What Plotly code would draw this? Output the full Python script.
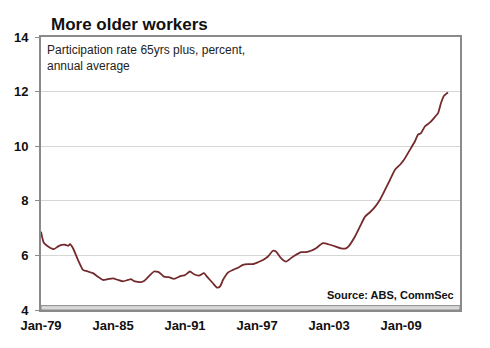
import plotly.graph_objects as go

# Participation rate, persons aged 65+, annual average (%)
dates = [
    "1979-01", "1979-04", "1979-11", "1980-02", "1980-07", "1981-01", "1981-04",
    "1981-06", "1981-09", "1982-02", "1982-07", "1982-12", "1983-05", "1983-10",
    "1984-03", "1984-08", "1985-01", "1985-06", "1985-11", "1986-04", "1986-07",
    "1986-10", "1987-05", "1987-08", "1988-02", "1988-06", "1988-11", "1989-04",
    "1989-09", "1990-02", "1990-09", "1991-01", "1991-06", "1991-10", "1992-03",
    "1992-08", "1992-11", "1993-05", "1993-09", "1993-12", "1994-03", "1994-08",
    "1995-01", "1995-06", "1995-11", "1996-04", "1996-09", "1997-02", "1997-07",
    "1997-12", "1998-05", "1998-08", "1999-01", "1999-06", "1999-11", "2000-04",
    "2000-09", "2001-02", "2001-07", "2001-12", "2002-07", "2003-02", "2003-08",
    "2004-01", "2004-06", "2004-09", "2005-03", "2005-08", "2006-01", "2006-06",
    "2006-10", "2007-04", "2007-09", "2008-02", "2008-07", "2008-12", "2009-04",
    "2009-09", "2010-03", "2010-06", "2010-09", "2011-01", "2011-06", "2011-10",
    "2012-02", "2012-05", "2012-08", "2012-12",
]
rate = [
    6.87, 6.45, 6.26, 6.23, 6.35, 6.39, 6.35,
    6.41, 6.26, 5.83, 5.47, 5.41, 5.35, 5.22,
    5.10, 5.13, 5.16, 5.10, 5.05, 5.10, 5.13,
    5.06, 5.02, 5.06, 5.28, 5.41, 5.38, 5.22,
    5.20, 5.14, 5.25, 5.28, 5.41, 5.31, 5.26,
    5.35, 5.22, 4.98, 4.82, 4.86, 5.10, 5.37,
    5.47, 5.55, 5.65, 5.68, 5.68, 5.75, 5.83,
    5.96, 6.17, 6.14, 5.90, 5.77, 5.90, 6.02,
    6.12, 6.12, 6.17, 6.26, 6.45, 6.39, 6.32,
    6.26, 6.26, 6.35, 6.69, 7.06, 7.42, 7.58,
    7.73, 8.04, 8.40, 8.77, 9.14, 9.32, 9.50,
    9.81, 10.18, 10.42, 10.48, 10.73, 10.87, 11.03,
    11.21, 11.58, 11.85, 11.97,
]

x_tick_vals = ["1979-01-01", "1985-01-01", "1991-01-01", "1997-01-01", "2003-01-01", "2009-01-01"]
x_tick_text = ["Jan-79", "Jan-85", "Jan-91", "Jan-97", "Jan-03", "Jan-09"]
y_tick_vals = [4, 6, 8, 10, 12, 14]

FONT = "Liberation Sans, Arial, sans-serif"

fig = go.Figure()
fig.add_trace(go.Scatter(
    x=dates, y=rate, mode="lines",
    line=dict(color="#742a2c", width=1.8, shape="spline", smoothing=0.5),
    hoverinfo="skip",
))

# shaded band along the category axis
fig.add_shape(type="rect", xref="paper", yref="y", x0=0, x1=1, y0=4, y1=4.16,
              fillcolor="#d9d9d9", line=dict(color="#8a8a8a", width=1), layer="above")

fig.update_layout(
    width=490, height=348,
    margin=dict(l=41, r=30, t=37, b=38),
    paper_bgcolor="white", plot_bgcolor="white",
    showlegend=False,
    font=dict(family=FONT, color="#111"),
    xaxis=dict(
        range=["1979-01-01", "2013-12-01"],
        tickvals=x_tick_vals, ticktext=x_tick_text,
        tickfont=dict(size=13, family=FONT, color="#111", weight="bold"),
        showgrid=False, zeroline=False,
        showline=True, linecolor="#8a8a8a", linewidth=2, mirror=True,
        ticks="inside", ticklen=4, tickcolor="#9a9a9a",
        ticklabelstandoff=2,
        minor=dict(ticks="inside", ticklen=4, tickcolor="#a8a8a8", dtick="M3", showgrid=False),
    ),
    yaxis=dict(
        range=[4, 14], tickvals=y_tick_vals,
        tickfont=dict(size=13, family=FONT, color="#111", weight="bold"),
        showgrid=True, gridcolor="#d6d6d6", gridwidth=1,
        zeroline=False,
        showline=True, linecolor="#8a8a8a", linewidth=2, mirror=True,
        ticks="outside", ticklen=4, tickcolor="#8a8a8a",
        ticklabelstandoff=4,
    ),
)

fig.add_annotation(text="<b>More older workers</b>", xref="paper", yref="paper",
                   x=0.018, y=1.0, xanchor="left", yanchor="bottom", yshift=1,
                   showarrow=False, font=dict(size=17, family=FONT, color="#111"))
fig.add_annotation(text="Participation rate 65yrs plus, percent,<br>annual average",
                   xref="paper", yref="paper", x=0.01, y=0.985, xanchor="left", yanchor="top",
                   align="left", showarrow=False, font=dict(size=12, family=FONT, color="#222"))
fig.add_annotation(text="<b>Source: ABS, CommSec</b>", xref="paper", yref="paper",
                   x=0.99, y=0.027, xanchor="right", yanchor="bottom",
                   showarrow=False, font=dict(size=11, family=FONT, color="#111"))

fig.write_html("out.html")
